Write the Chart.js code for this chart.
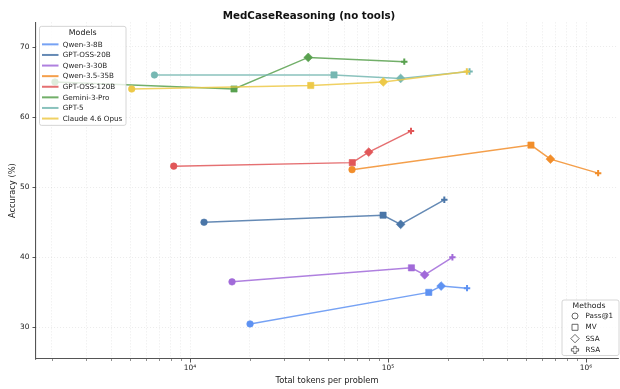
<!DOCTYPE html>
<html>
<head>
<meta charset="utf-8">
<script src="https://cdn.jsdelivr.net/npm/chart.js@4/dist/chart.umd.min.js"></script>
<style>
  html, body { margin: 0; padding: 0; background: #ffffff; }
  #wrap { width: 620px; height: 389px; }
</style>
</head>
<body>
<div id="wrap"><canvas id="chart" width="620" height="389"></canvas></div>
<script>
// ---- data -------------------------------------------------------------
const models = ['Qwen-3-8B', 'GPT-OSS-20B', 'Qwen-3-30B', 'Qwen-3.5-35B',
                'GPT-OSS-120B', 'Gemini-3-Pro', 'GPT-5', 'Claude 4.6 Opus'];
const methods = ['Pass@1', 'MV', 'SSA', 'RSA'];

// total tokens per problem, one row per model, columns follow `methods`
const tokensPerProblem = [
  [20100, 160600, 185400, 250600],
  [11770, 94400, 115800, 192400],
  [16300, 131300, 153100, 211400],
  [65800, 527000, 660800, 1151000],
  [8275, 66000, 79900, 130600],
  [2080, 16680, 39540, 120800],
  [6610, 53350, 115800, 258000],
  [5077, 40700, 94650, 250000]
];
// accuracy (%), same layout
const accuracyPct = [
  [30.5, 35.0, 35.9, 35.6],
  [45.0, 46.0, 44.7, 48.2],
  [36.5, 38.5, 37.5, 40.0],
  [52.5, 56.0, 54.0, 52.0],
  [53.0, 53.5, 55.0, 58.0],
  [65.0, 64.0, 68.5, 67.9],
  [66.0, 66.0, 65.5, 66.5],
  [64.0, 64.5, 65.0, 66.5]
];

const xMajorTicks = [1e4, 1e5, 1e6];
const xTickLabels = ['10\u2074', '10\u2075', '10\u2076'];
const yTicks = [30, 40, 50, 60, 70];

// ---- styling ----------------------------------------------------------
const FONT = '"DejaVu Sans", "Liberation Sans", sans-serif';
const palette = ['#5e92f2', '#4a76a8', '#a16ad9', '#f28e2b',
                 '#e15759', '#59a14f', '#76b7b2', '#edc948'];
const markerStyle = ['circle', 'rect', 'rectRot', 'cross'];
const markerRadius = [3.3, 4.4, 4.4, 3.2];
const markerBorder = [0.6, 0.6, 0.6, 2.0];

function withAlpha(hex, a) {
  const n = parseInt(hex.slice(1), 16);
  return `rgba(${(n >> 16) & 255},${(n >> 8) & 255},${n & 255},${a})`;
}

const datasets = models.map((name, i) => ({
  label: name,
  data: tokensPerProblem[i].map((t, j) => ({ x: t, y: accuracyPct[i][j] })),
  showLine: true,
  borderColor: withAlpha(palette[i], 0.85),
  borderWidth: 1.5,
  pointBackgroundColor: palette[i],
  pointBorderColor: palette[i],
  pointStyle: markerStyle,
  pointRadius: markerRadius,
  pointBorderWidth: markerBorder,
  order: -i
}));

// tick marks drawn matplotlib-style (longer major, shorter minor)
const tickMarks = {
  id: 'tickMarks',
  afterDraw(chart) {
    const { ctx, chartArea } = chart;
    const xs = chart.scales.x, ys = chart.scales.y;
    ctx.save();
    ctx.strokeStyle = '#444';
    xs.ticks.forEach(t => {
      const lg = Math.log10(t.value);
      const major = Math.abs(lg - Math.round(lg)) < 1e-9;
      const px = Math.round(xs.getPixelForValue(t.value)) + 0.5;
      ctx.lineWidth = major ? 0.9 : 0.6;
      ctx.beginPath();
      ctx.moveTo(px, chartArea.bottom);
      ctx.lineTo(px, chartArea.bottom + (major ? 3.5 : 2));
      ctx.stroke();
    });
    ys.ticks.forEach(t => {
      const py = Math.round(ys.getPixelForValue(t.value)) + 0.5;
      ctx.lineWidth = 0.9;
      ctx.beginPath();
      ctx.moveTo(chartArea.left, py);
      ctx.lineTo(chartArea.left - 3.5, py);
      ctx.stroke();
    });
    ctx.restore();
  }
};

function drawMarker(ctx, style, x, y) {
  ctx.beginPath();
  if (style === 'circle') {
    ctx.arc(x, y, 3, 0, Math.PI * 2);
  } else if (style === 'rect') {
    ctx.rect(x - 3, y - 3, 6, 6);
  } else if (style === 'rectRot') {
    ctx.moveTo(x, y - 4.2); ctx.lineTo(x + 4.2, y);
    ctx.lineTo(x, y + 4.2); ctx.lineTo(x - 4.2, y);
    ctx.closePath();
  } else {
    const a = 3.6, b = 1.2;
    ctx.moveTo(x - b, y - a); ctx.lineTo(x + b, y - a); ctx.lineTo(x + b, y - b);
    ctx.lineTo(x + a, y - b); ctx.lineTo(x + a, y + b); ctx.lineTo(x + b, y + b);
    ctx.lineTo(x + b, y + a); ctx.lineTo(x - b, y + a); ctx.lineTo(x - b, y + b);
    ctx.lineTo(x - a, y + b); ctx.lineTo(x - a, y - b); ctx.lineTo(x - b, y - b);
    ctx.closePath();
  }
  ctx.fillStyle = '#ffffff';
  ctx.fill();
  ctx.strokeStyle = '#444';
  ctx.lineWidth = 0.8;
  ctx.stroke();
}

function legendFrame(ctx, x, y, w, h) {
  const r = 2;
  ctx.beginPath();
  ctx.moveTo(x + r, y);
  ctx.arcTo(x + w, y, x + w, y + h, r);
  ctx.arcTo(x + w, y + h, x, y + h, r);
  ctx.arcTo(x, y + h, x, y, r);
  ctx.arcTo(x, y, x + w, y, r);
  ctx.closePath();
  ctx.fillStyle = 'rgba(255,255,255,0.8)';
  ctx.fill();
  ctx.strokeStyle = '#cccccc';
  ctx.lineWidth = 0.8;
  ctx.stroke();
}

// two legends: colours per model (upper left), marker per method (lower right)
const legends = {
  id: 'legends',
  afterDraw(chart) {
    const ctx = chart.ctx;
    const area = chart.chartArea;
    ctx.save();

    // models
    const mx = area.left + 3.5, my = area.top + 4;
    legendFrame(ctx, mx, my, 86.5, 99);
    ctx.fillStyle = '#222';
    ctx.font = `7.9px ${FONT}`;
    ctx.textAlign = 'center';
    ctx.textBaseline = 'middle';
    ctx.fillText('Models', mx + 43.2, my + 6.8);
    ctx.font = `7.2px ${FONT}`;
    ctx.textAlign = 'left';
    models.forEach((name, i) => {
      const ry = my + 18 + i * 10.6;
      ctx.strokeStyle = withAlpha(palette[i], 0.85);
      ctx.lineWidth = 2;
      ctx.beginPath();
      ctx.moveTo(mx + 2.5, ry);
      ctx.lineTo(mx + 19, ry);
      ctx.stroke();
      ctx.fillStyle = '#222';
      ctx.fillText(name, mx + 23.3, ry + 0.3);
    });

    // methods
    const bx = area.right - 56, by = area.bottom - 3.5 - 55.5;
    legendFrame(ctx, bx, by, 57, 55.5);
    ctx.fillStyle = '#222';
    ctx.font = `7.7px ${FONT}`;
    ctx.textAlign = 'center';
    ctx.fillText('Methods', bx + 27, by + 6.2);
    ctx.font = `7.2px ${FONT}`;
    ctx.textAlign = 'left';
    methods.forEach((m, i) => {
      const ry = by + 16 + i * 11.3;
      drawMarker(ctx, markerStyle[i], bx + 13, ry);
      ctx.fillStyle = '#222';
      ctx.fillText(m, bx + 23.5, ry + 0.3);
    });
    ctx.restore();
  }
};

new Chart(document.getElementById('chart'), {
  type: 'scatter',
  data: { datasets },
  plugins: [tickMarks, legends],
  options: {
    responsive: false,
    devicePixelRatio: 1,
    animation: false,
    events: [],
    layout: { autoPadding: false, padding: { left: 0, right: 2, top: 0, bottom: 0 } },
    plugins: {
      legend: { display: false },
      tooltip: { enabled: false },
      title: {
        display: true,
        text: 'MedCaseReasoning (no tools)',
        color: '#111',
        font: { family: FONT, size: 10.3, weight: 'bold', lineHeight: 1.2 },
        padding: { top: 10, bottom: 0 }
      }
    },
    scales: {
      x: {
        type: 'logarithmic',
        position: 'bottom',
        min: 1668,
        max: 1450000,
        afterBuildTicks(scale) {
          const t = [];
          for (let e = 3; e <= 6; e++) {
            for (let m = 1; m <= 9; m++) {
              const v = m * Math.pow(10, e);
              if (v >= scale.min && v <= scale.max) t.push({ value: v });
            }
          }
          scale.ticks = t;
        },
        afterFit(scale) { scale.height = 30; },
        ticks: {
          autoSkip: false,
          maxRotation: 0,
          minRotation: 0,
          padding: 5,
          color: '#222',
          font: { family: FONT, size: 7.4 },
          callback(value) {
            const k = xMajorTicks.indexOf(value);
            return k >= 0 ? xTickLabels[k] : '';
          }
        },
        grid: { color: 'rgba(0,0,0,0.12)', lineWidth: 0.7, drawTicks: false },
        border: { display: true, color: '#555', width: 1.1, dash: [1, 2] },
        title: {
          display: true,
          text: 'Total tokens per problem',
          color: '#222',
          font: { family: FONT, size: 8.3, lineHeight: 1.2 },
          padding: { top: 0, bottom: 3 }
        }
      },
      y: {
        type: 'linear',
        position: 'left',
        min: 25.5,
        max: 73.5,
        afterBuildTicks(scale) {
          scale.ticks = yTicks.map(v => ({ value: v }));
        },
        afterFit(scale) { scale.width = 36; },
        ticks: {
          padding: 6.5,
          color: '#222',
          font: { family: FONT, size: 7.4 },
          callback(value) { return String(value); }
        },
        grid: { color: 'rgba(0,0,0,0.12)', lineWidth: 0.7, drawTicks: false },
        border: { display: true, color: '#555', width: 1.1, dash: [1, 2] },
        title: {
          display: true,
          text: 'Accuracy (%)',
          color: '#222',
          font: { family: FONT, size: 8.3, lineHeight: 1.2 },
          padding: { top: 7.5, bottom: 0 }
        }
      }
    }
  }
});
</script>
</body>
</html>
